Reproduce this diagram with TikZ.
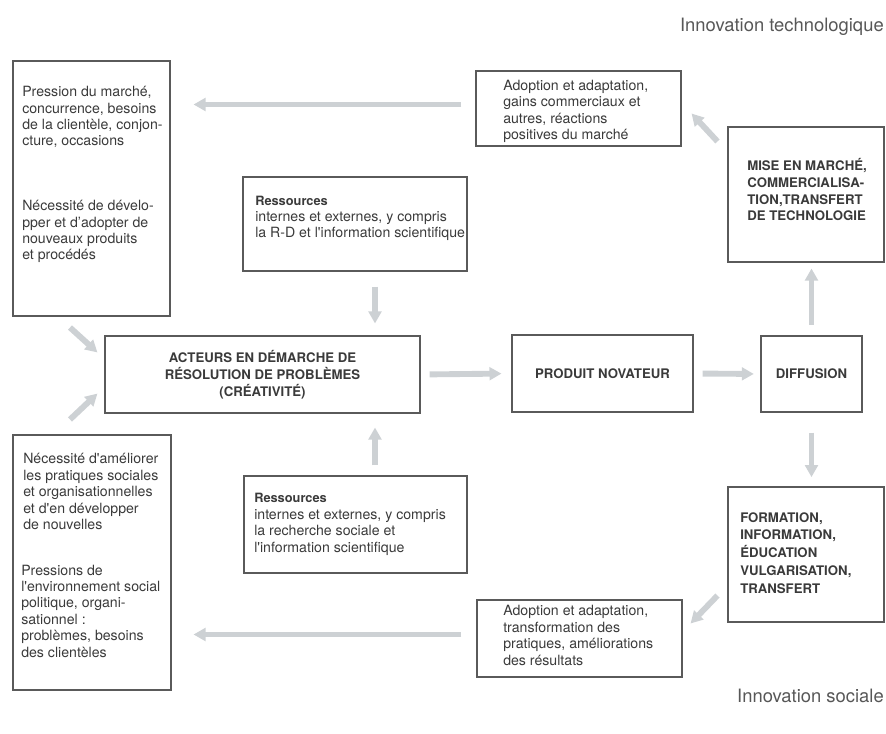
\documentclass[tikz,border=0pt]{standalone}
\usepackage{fontspec}
\setmainfont{TeX Gyre Heros}
\usetikzlibrary{arrows.meta,fit,calc}

\definecolor{arrowgray}{HTML}{CDD1D4}
\definecolor{linegray}{HTML}{5A5A5A}
\definecolor{inkgray}{HTML}{3A3A3A}

\begin{document}
\begin{tikzpicture}[x=0.75pt,y=-0.75pt,
  boxline/.style={draw=linegray,line width=0.8pt,inner sep=0pt},
  flow/.style={draw=arrowgray,line width=4.4pt,-{Triangle[length=9pt,width=9.5pt]}},
  txt/.style={anchor=base west,align=left,inner sep=0pt,text=inkgray,font=\fontsize{10.6}{12.3}\selectfont},
  caps/.style={align=left,inner sep=0pt,text=inkgray,font=\bfseries\fontsize{9.9}{12.6}\selectfont},
  heading/.style={anchor=base east,inner sep=0pt,text=inkgray!85,font=\fontsize{13.8}{16}\selectfont}]
\useasboundingbox (0,0) rectangle (886,734);
% boxes
\node[boxline,fit={(13,61) (170,316)}] (mkt) {};
\node[boxline,fit={(476,71) (681,146)}] (adt) {};
\node[boxline,fit={(728,127) (884,262)}] (mise) {};
\node[boxline,fit={(243,177) (467,271)}] (rest) {};
\node[boxline,fit={(105,336) (420,413)}] (act) {};
\node[boxline,fit={(512,335) (693,412)}] (prod) {};
\node[boxline,fit={(761,336) (862,412)}] (diff) {};
\node[boxline,fit={(13,435) (171,690)}] (soc) {};
\node[boxline,fit={(244,476) (467,573)}] (resb) {};
\node[boxline,fit={(728,487) (884,622)}] (form) {};
\node[boxline,fit={(477,600) (682,677)}] (adb) {};
% texts (anchored on the baseline of their last line)
\node[heading] (tech) at (884,32) {Innovation technologique};
\node[heading] (sociale) at (884,702) {Innovation sociale};
\node[txt] (mkt1) at (22,146) {Pression du marché,\\concurrence, besoins\\de la clientèle, conjon-\\cture, occasions};
\node[txt] (mkt2) at (22,260) {Nécessité de dévelo-\\pper et d’adopter de\\nouveaux produits\\et procédés};
\node[txt] (soc1) at (23,529.5) {Nécessité d\textquotesingle améliorer\\les pratiques sociales\\et organisationnelles\\et d\textquotesingle en développer\\de nouvelles};
\node[txt] (soc2) at (21,657) {Pressions de\\l\textquotesingle environnement social\\politique, organi-\\sationnel :\\problèmes, besoins\\des clientèles};
\node[txt] (adt1) at (503,139.5) {Adoption et adaptation,\\gains commerciaux et\\autres, réactions\\positives du marché};
\node[txt] (adb1) at (503,665) {Adoption et adaptation,\\transformation des\\pratiques, améliorations\\des résultats};
\node[txt] (rest1) at (255,238) {{\bfseries\fontsize{9.6}{12}\selectfont Ressources}\\internes et externes, y compris\\la R-D et l\textquotesingle information scientifique};
\node[txt] (resb1) at (254,552) {{\bfseries\fontsize{9.6}{12}\selectfont Ressources}\\internes et externes, y compris\\la recherche sociale et\\l\textquotesingle information scientifique};
\node[caps,anchor=base west] (mise1) at (747,221) {MISE EN MARCHÉ,\\COMMERCIALISA-\\TION,TRANSFERT\\DE TECHNOLOGIE};
\node[caps,anchor=base west,font=\bfseries\fontsize{9.9}{13.3}\selectfont] (form1) at (740,593) {FORMATION,\\INFORMATION,\\ÉDUCATION\\VULGARISATION,\\TRANSFERT};
\node[caps,align=center] (act1) at (act.center) {ACTEURS EN DÉMARCHE DE\\RÉSOLUTION DE PROBLÈMES\\(CRÉATIVITÉ)};
\node[caps] (prod1) at (prod.center) {PRODUIT NOVATEUR};
\node[caps] (diff1) at (diff.center) {DIFFUSION};
% arrows along the top and bottom
\draw[flow] ($(adt.west)+(-14,-4)$) -- ($(adt.west -| mkt.east)+(23,-4)$);
\draw[flow] ($(adb.west)+(-15,-4)$) -- ($(adb.west -| soc.east)+(22,-4)$);
% centre row
\draw[flow,shorten <=6.75pt,shorten >=7.5pt] (act.east) -- (prod.west);
\draw[flow,shorten <=6.75pt,shorten >=5pt] (prod.east) -- (diff.west);
\draw[flow,shorten <=8pt,shorten >=4.5pt] (diff.north) -- (diff.north |- mise.south);
\draw[flow,shorten <=15pt,shorten >=7pt] (diff.south) -- (diff.south |- form.north);
% resources
\draw[flow] ($(rest.south)+(20,15)$) -- ($(rest.south |- act.north)+(20,-12)$);
\draw[flow] ($(resb.north)+(19.5,-10)$) -- ($(resb.north |- act.south)+(19.5,14)$);
% diagonals
\draw[flow] ($(mkt.south)+(-21.5,11)$) -- ($(act.north west)+(-7,17)$);
\draw[flow] ($(soc.north)+(-22,-15)$) -- ($(act.south west)+(-7,-20)$);
\draw[flow] ($(mise.north west)+(-10,15)$) -- ($(adt.east)+(10,5)$);
\draw[flow] ($(form.south west)+(-10,-27)$) -- ($(adb.east)+(8,-15)$);
\end{tikzpicture}
\end{document}
